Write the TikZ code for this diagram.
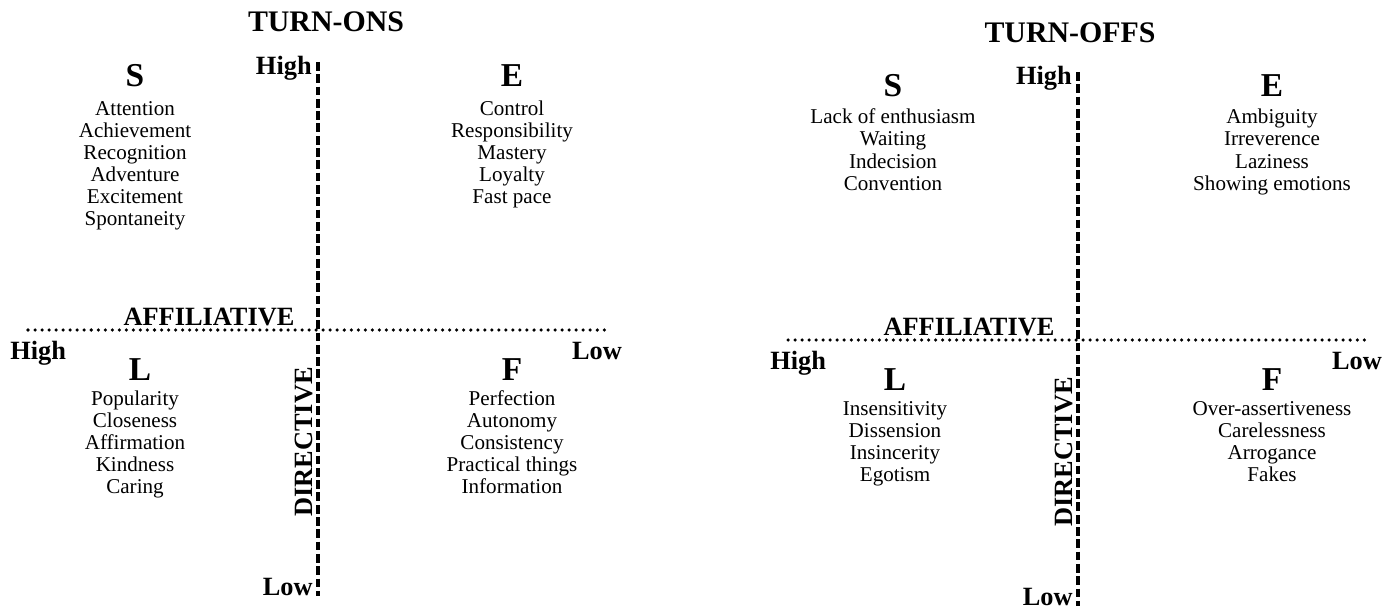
\documentclass[tikz,border=0pt]{standalone}
\usepackage{fontspec}
\setmainfont{Liberation Serif}
\usepackage{tikz}

\tikzset{
  item/.style={inner sep=0pt, anchor=base, font=\fontsize{12}{14}\selectfont},
  quadletter/.style={inner sep=0pt, anchor=base, font=\fontsize{19}{22}\selectfont\bfseries},
  axislabel/.style={inner sep=0pt, font=\fontsize{15}{18}\selectfont\bfseries},
  paneltitle/.style={inner sep=0pt, font=\fontsize{17}{20}\selectfont\bfseries},
  directline/.style={line width=2.2pt, dash pattern=on 5pt off 2pt},
  affilline/.style={line width=2pt, line cap=round, dash pattern=on 0pt off 4pt}
}

\begin{document}
\begin{tikzpicture}[x=0.02cm, y=-0.02cm]
        \useasboundingbox (0,0) rectangle (1396,608);

        % turn-ons
        \begin{scope}
            \node[paneltitle] (ons-title) at (326,22) {TURN-ONS};
            \coordinate (ons-top) at (318,62);
            \coordinate (ons-bot) at (318,596);
            \coordinate (ons-left) at (28,330);
            \coordinate (ons-right) at (605,330);
            \draw[affilline] (ons-left) -- (ons-right);
            \draw[directline] (ons-top) -- (ons-bot);

            % axis labels
            \node[axislabel, anchor=base east] (ons-high-d) at (312,75) {High};
            \node[axislabel, anchor=base east] (ons-low-d) at (313,595) {Low};
            \node[axislabel, anchor=base west] (ons-high-a) at (10,359) {High};
            \node[axislabel, anchor=base] (ons-low-a) at (597,359) {Low};
            \node[axislabel, anchor=base] (ons-affil) at (209,325) {AFFILIATIVE};
            \node[axislabel, rotate=90] (ons-direct) at (304,442) {DIRECTIVE};

            % quadrants
            \node[quadletter] (ons-s) at (135,87) {S};
            \node[quadletter] (ons-e) at (512,87) {E};
            \node[quadletter] (ons-l) at (140,380) {L};
            \node[quadletter] (ons-f) at (512,380) {F};
            \foreach \t [count=\i from 0] in {Attention,Achievement,Recognition,Adventure,Excitement,Spontaneity}
                \node[item] (ons-s\i) at (135,115+22*\i) {\t};
            \foreach \t [count=\i from 0] in {Control,Responsibility,Mastery,Loyalty,Fast pace}
                \node[item] (ons-e\i) at (512,115+22*\i) {\t};
            \foreach \t [count=\i from 0] in {Popularity,Closeness,Affirmation,Kindness,Caring}
                \node[item] (ons-l\i) at (135,405+22*\i) {\t};
            \foreach \t [count=\i from 0] in {Perfection,Autonomy,Consistency,Practical things,Information}
                \node[item] (ons-f\i) at (512,405+22*\i) {\t};
        \end{scope}

        % turn-offs
        \begin{scope}[shift={(760,10)}]
            \node[paneltitle] (offs-title) at (310,23) {TURN-OFFS};
            \coordinate (offs-top) at (318,62);
            \coordinate (offs-bot) at (318,596);
            \coordinate (offs-left) at (28,330);
            \coordinate (offs-right) at (605,330);
            \draw[affilline] (offs-left) -- (offs-right);
            \draw[directline] (offs-top) -- (offs-bot);

            % axis labels
            \node[axislabel, anchor=base east] (offs-high-d) at (312,75) {High};
            \node[axislabel, anchor=base east] (offs-low-d) at (313,595) {Low};
            \node[axislabel, anchor=base west] (offs-high-a) at (10,359) {High};
            \node[axislabel, anchor=base] (offs-low-a) at (597,359) {Low};
            \node[axislabel, anchor=base] (offs-affil) at (209,325) {AFFILIATIVE};
            \node[axislabel, rotate=90] (offs-direct) at (304,442) {DIRECTIVE};

            % quadrants
            \node[quadletter] (offs-s) at (133,87) {S};
            \node[quadletter] (offs-e) at (512,87) {E};
            \node[quadletter] (offs-l) at (135,380) {L};
            \node[quadletter] (offs-f) at (512,380) {F};
            \foreach \t [count=\i from 0] in {Lack of enthusiasm,Waiting,Indecision,Convention}
                \node[item] (offs-s\i) at (133,114+22*\i) {\t};
            \foreach \t [count=\i from 0] in {Ambiguity,Irreverence,Laziness,Showing emotions}
                \node[item] (offs-e\i) at (512,114+22*\i) {\t};
            \foreach \t [count=\i from 0] in {Insensitivity,Dissension,Insincerity,Egotism}
                \node[item] (offs-l\i) at (135,405+22*\i) {\t};
            \foreach \t [count=\i from 0] in {Over-assertiveness,Carelessness,Arrogance,Fakes}
                \node[item] (offs-f\i) at (512,405+22*\i) {\t};
        \end{scope}
\end{tikzpicture}
\end{document}
